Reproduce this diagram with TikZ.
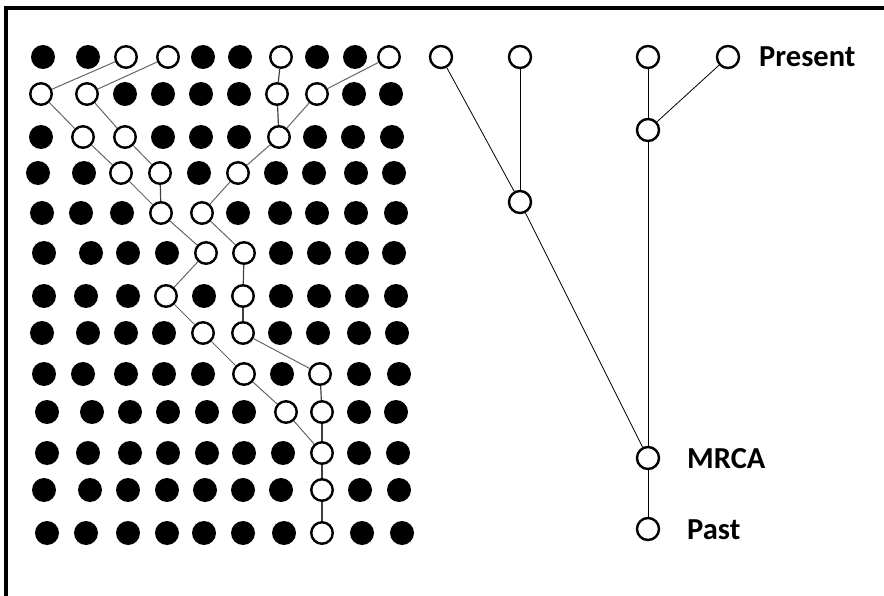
\documentclass[tikz,border=0pt]{standalone}
\usepackage{fontspec}
\newfontfamily\labelfont{Carlito}
\begin{document}
\begin{tikzpicture}[x=1pt,y=-1pt,
  bdot/.style={circle,fill=black,minimum size=24pt,inner sep=0pt},
  odot/.style={circle,draw=black,line width=2.4pt,fill=white,minimum size=21.5pt,inner sep=0pt},
  tnode/.style={circle,draw=black,line width=2.4pt,fill=white,minimum size=22pt,inner sep=0pt},
  gline/.style={draw=black!60,line width=1pt},
  vline/.style={draw=black!75,line width=1.2pt},
  tline/.style={draw=black,line width=0.8pt},
  lbl/.style={font=\labelfont\bfseries\fontsize{30.5}{36}\selectfont,inner sep=0pt,anchor=base west}]
\useasboundingbox (0,0) rectangle (884,596);
\fill[white] (0,0) rectangle (884,596);
% frame
\draw[line width=4pt] (6,596) -- (6,8) -- (884,8);
% grid
\foreach \r/\y/\row in {
 1/57/{43/bdot,88/bdot,126/odot,168/odot,203/bdot,240/bdot,281/odot,317/bdot,355/bdot,389/odot},
 2/94/{41/odot,87/odot,125/bdot,163/bdot,201/bdot,239/bdot,277/odot,317/odot,354/bdot,391/bdot},
 3/137/{41/bdot,83/odot,125/odot,163/bdot,201/bdot,239/bdot,279/odot,315/bdot,353/bdot,392/bdot},
 4/173/{38/bdot,84/bdot,121/odot,160/odot,199/bdot,238/odot,276/bdot,314/bdot,356/bdot,394/bdot},
 5/213/{42/bdot,81/bdot,122/bdot,161/odot,202/odot,238/bdot,280/bdot,317/bdot,356/bdot,396/bdot},
 6/253/{44/bdot,91/bdot,128/bdot,167/bdot,206/odot,244/odot,281/bdot,319/bdot,357/bdot,394/bdot},
 7/296/{44/bdot,86/bdot,128/bdot,166/odot,204/bdot,243/odot,281/bdot,319/bdot,357/bdot,396/bdot},
 8/333/{42/bdot,88/bdot,126/bdot,164/bdot,203/odot,243/odot,280/bdot,318/bdot,359/bdot,397/bdot},
 9/374/{44/bdot,83/bdot,126/bdot,164/bdot,203/bdot,244/odot,282/bdot,320/odot,359/bdot,399/bdot},
 10/412/{47/bdot,92/bdot,130/bdot,168/bdot,207/bdot,244/bdot,286/odot,322/odot,359/bdot,396/bdot},
 11/453/{47/bdot,88/bdot,130/bdot,168/bdot,207/bdot,244/bdot,283/bdot,322/odot,359/bdot,398/bdot},
 12/490/{44/bdot,90/bdot,128/bdot,167/bdot,205/bdot,243/bdot,281/bdot,322/odot,360/bdot,399/bdot},
 13/533/{47/bdot,86/bdot,128/bdot,167/bdot,204/bdot,243/bdot,284/bdot,322/odot,362/bdot,402/bdot}}
{
  \foreach \x/\t [count=\c] in \row {
    \node[\t] (n\r-\c) at (\x,\y) {};
  }
}
% lineage lines
\foreach \a/\b in {1-3/2-1,1-4/2-2,1-10/2-8,
  2-1/3-2,2-2/3-3,2-8/3-7,
  3-2/4-3,3-3/4-4,3-7/4-6,
  4-3/5-4,4-6/5-5,
  5-4/6-5,5-5/6-6,
  6-5/7-4,
  7-4/8-5,
  8-5/9-6,8-6/9-8,
  9-6/10-7,
  10-7/11-8}
  \draw[gline] (n\a) -- (n\b);
\foreach \a/\b in {1-7/2-7,2-7/3-7,4-4/5-4,6-6/7-6,7-6/8-6,9-8/10-8,10-8/11-8,11-8/12-8,12-8/13-8}
  \draw[vline] (n\a) -- (n\b);
% genealogy tree
\node[tnode] (t1) at (441,57) {};
\node[tnode] (t2) at (520,57) {};
\node[tnode] (t3) at (648,57) {};
\node[tnode] (t4) at (728,57) {};
\node[tnode] (c2) at (648,130) {};
\node[tnode] (c1) at (520,202) {};
\node[tnode] (mrca) at (648,458) {};
\node[tnode] (past) at (648,529) {};
\draw[tline] (t1) -- (c1);
\draw[tline] (t2) -- (c1);
\draw[tline] (t3) -- (c2);
\draw[tline] (t4) -- (c2);
\draw[tline] (c1) -- (mrca);
\draw[tline] (c2) -- (mrca);
\draw[tline] (mrca) -- (past);
\node[lbl] (lp) at (759,67) {Present};
\node[lbl] (lm) at (687,468) {MRCA};
\node[lbl] (lpa) at (687,539) {Past};
\end{tikzpicture}
\end{document}
